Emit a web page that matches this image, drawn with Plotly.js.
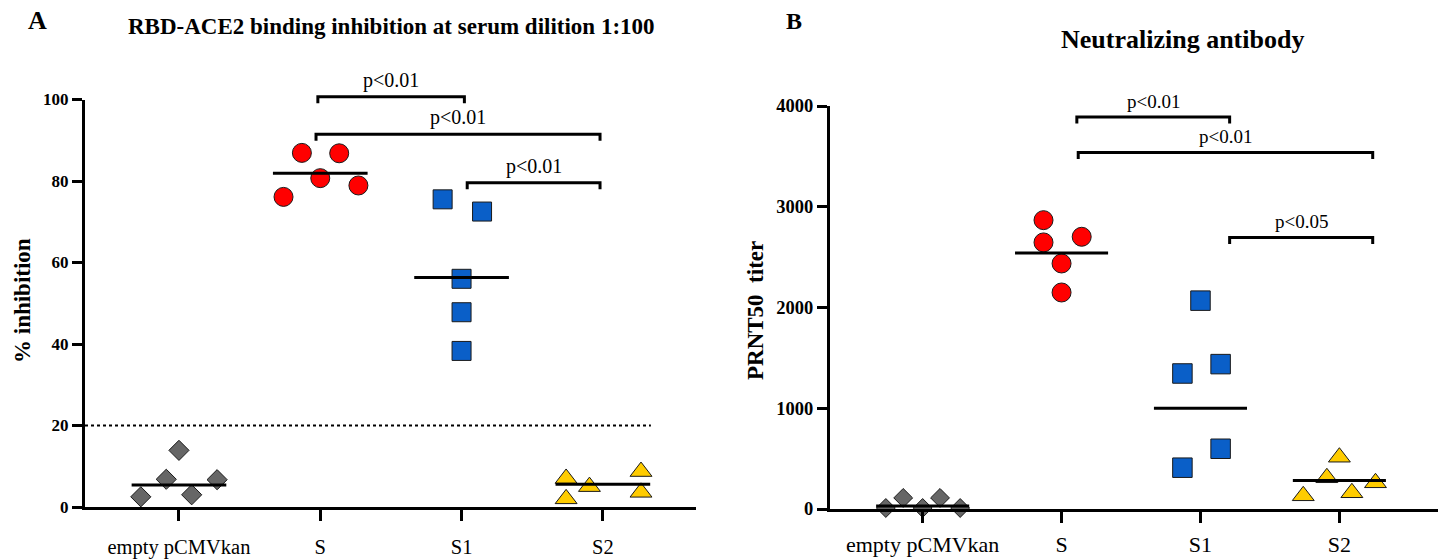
<!DOCTYPE html>
<html>
<head>
<meta charset="utf-8">
<script src="https://cdn.plot.ly/plotly-3.0.1.min.js"></script>
<style>html,body{margin:0;padding:0;background:#fff}#chart{width:1438px;height:560px}</style>
</head>
<body>
<div id="chart"></div>
<script>
// ---------- DATA ----------
const categories = ['empty pCMVkan', 'S', 'S1', 'S2'];

// Panel A: % inhibition (RBD-ACE2 binding) — per-animal values and horizontal jitter
const inhibEmpty = [2.5, 6.8, 13.9, 3.0, 6.7];
const inhibS     = [76.1, 86.9, 80.7, 86.8, 78.9];
const inhibS1    = [75.5, 56.0, 47.8, 38.3, 72.5];
const inhibS2    = [7.0, 2.0, 5.0, 8.7, 3.6];
const inhibMeans = [5.4, 81.9, 56.3, 5.6];
const jitterAEmpty = [-0.27, -0.09, 0, 0.09, 0.27];
const jitterAS     = [-0.26, -0.13, 0, 0.134, 0.27];
const jitterAS1    = [-0.134, 0, 0, 0, 0.145];
const jitterAS2    = [-0.26, -0.26, -0.095, 0.27, 0.27];
const inhibCutoff = 20;
const inhibTicks = [0, 20, 40, 60, 80, 100];
// significance brackets: [from category position, to category position, height, label]
const bracketsA = [
  [0.983, 2.02, 100.7, 'p<0.01'],
  [0.97, 2.98, 91.5, 'p<0.01'],
  [2.04, 2.98, 79.6, 'p<0.01']
];

// Panel B: PRNT50 titer
const titerEmpty = [10, 110, 10, 110, 10];
const titerS     = [2867, 2646, 2702, 2437, 2149];
const titerS1    = [2068, 1345, 1438, 410, 598];
const titerS2    = [131, 310, 514, 161, 260];
const titerMeans = [30, 2540, 1000, 283];
const jitterBEmpty = [-0.265, -0.14, 0, 0.125, 0.27];
const jitterBS     = [-0.13, -0.13, 0.145, 0, 0];
const jitterBS1    = [0, -0.13, 0.145, -0.13, 0.145];
const jitterBS2    = [-0.26, -0.09, 0, 0.09, 0.26];
const titerTicks = [0, 1000, 2000, 3000, 4000];
const bracketsB = [
  [1.11, 2.21, 3892, 'p<0.01'],
  [1.12, 3.24, 3539, 'p<0.01'],
  [2.21, 3.24, 2695, 'p<0.05']
];

// ---------- STYLE ----------
const SERIF = '"Liberation Serif", "Times New Roman", serif';
const groupStyles = [
  {symbol: 'diamond', color: '#666666'},
  {symbol: 'circle', color: '#FF0000'},
  {symbol: 'square', color: '#0A5FC8'},
  {symbol: 'triangle-up', color: '#FFCC00'}
];
const W = 1438, H = 560;
const px = p => p / W;
const py = p => 1 - p / H;

// Panel geometry (pixels)
const A = {left: 85, right: 696.4, y0: 507, yMaxPx: 99.5, yMax: 100, yExtra: 110, xr: [-0.665, 3.662]};
const B = {left: 830, right: 1438, y0: 509, yMaxPx: 106, yMax: 4000, yExtra: 4300, xr: [-0.667, 3.71]};
function extTop(P) { const per = (P.y0 - P.yMaxPx) / P.yMax; return P.y0 - P.yExtra * per; }

// ---------- TRACES ----------
const traces = [];
function addGroups(xa, ya, groups, jitters, sizes) {
  groups.forEach((vals, gi) => {
    traces.push({
      type: 'scatter', mode: 'markers', xaxis: xa, yaxis: ya, cliponaxis: false,
      x: vals.map((v, i) => gi + jitters[gi][i]), y: vals,
      marker: {symbol: groupStyles[gi].symbol, color: groupStyles[gi].color, size: sizes[gi],
               line: {color: '#1a1a1a', width: 1}},
      hoverinfo: 'y', showlegend: false
    });
  });
}
function addMeans(xa, ya, means) {
  means.forEach((m, gi) => {
    traces.push({type: 'scatter', mode: 'lines', xaxis: xa, yaxis: ya,
      x: [gi - 0.335, gi + 0.335], y: [m, m], line: {color: '#000', width: 3},
      hoverinfo: 'skip', showlegend: false});
  });
}
function addBrackets(xa, ya, brackets, leg) {
  brackets.forEach(b => {
    traces.push({type: 'scatter', mode: 'lines', xaxis: xa, yaxis: ya,
      x: [b[0], b[0], b[1], b[1]], y: [b[2] - leg, b[2], b[2], b[2] - leg],
      line: {color: '#000', width: 3}, hoverinfo: 'skip', showlegend: false});
  });
}

addGroups('x', 'y', [inhibEmpty, inhibS, inhibS1, inhibS2],
  [jitterAEmpty, jitterAS, jitterAS1, jitterAS2], [15.5, 19, 19, 19]);
addMeans('x', 'y', inhibMeans);
traces.unshift({type: 'scatter', mode: 'lines', xaxis: 'x', yaxis: 'y',
  x: [A.xr[0], 3.34], y: [inhibCutoff, inhibCutoff],
  line: {color: '#000', width: 2, dash: 'dot'}, hoverinfo: 'skip', showlegend: false});
addBrackets('x', 'y3', bracketsA, 1.6);

addGroups('x2', 'y2', [titerEmpty, titerS, titerS1, titerS2],
  [jitterBEmpty, jitterBS, jitterBS1, jitterBS2], [14.5, 19, 19.5, 19]);
addMeans('x2', 'y2', titerMeans);
addBrackets('x2', 'y4', bracketsB, 65);

// ---------- LAYOUT ----------
function xAxis(P, anchor, fontSize, standoff) {
  return {domain: [px(P.left), px(P.right)], range: P.xr, anchor: anchor,
    tickmode: 'array', tickvals: [0, 1, 2, 3], ticktext: categories,
    ticks: 'outside', ticklen: 11, tickwidth: 3, tickcolor: '#000',
    showline: true, linewidth: 3, linecolor: '#000', showgrid: false, zeroline: false,
    tickfont: {family: SERIF, size: fontSize, color: '#000'}, ticklabelstandoff: standoff, fixedrange: true};
}
function yAxis(P, anchor, ticks, fontSize) {
  return {domain: [py(P.y0), py(P.yMaxPx)], range: [0, P.yMax], anchor: anchor,
    tickmode: 'array', tickvals: ticks, ticks: 'outside', ticklen: 10, tickwidth: 3, tickcolor: '#000',
    showline: true, linewidth: 3, linecolor: '#000', showgrid: false, zeroline: false,
    tickfont: {family: SERIF, size: fontSize, color: '#000', weight: 'bold'}, fixedrange: true};
}
function yHidden(P, anchor) {
  return {domain: [py(P.y0), py(extTop(P))], range: [0, P.yExtra], anchor: anchor,
    visible: false, fixedrange: true};
}

const annotations = [];
function bracketLabels(xa, ya, brackets, size) {
  brackets.forEach(b => annotations.push({xref: xa, yref: ya, x: (b[0] + b[1]) / 2, y: b[2],
    yanchor: 'bottom', yshift: 3, text: b[3], showarrow: false,
    font: {family: SERIF, size: size, color: '#000'}}));
}
bracketLabels('x', 'y3', bracketsA, 20);
bracketLabels('x2', 'y4', bracketsB, 19);

function txt(x, y, text, size, bold, angle) {
  annotations.push({xref: 'paper', yref: 'paper', x: px(x), y: py(y), xanchor: 'center', yanchor: 'middle',
    text: text, showarrow: false, textangle: angle || 0,
    font: {family: SERIF, size: size, color: '#000', weight: bold ? 'bold' : 'normal'}});
}
txt(37, 21, 'A', 26, true);
txt(391, 26, 'RBD-ACE2 binding inhibition at serum dilition 1:100', 23, true);
txt(794, 21, 'B', 24, true);
txt(1182, 40, 'Neutralizing antibody', 26, true);
txt(22, 301, '% inhibition', 23, true, -90);
txt(755, 310, 'PRNT50\u00a0 titer', 23, true, -90);

const layout = {
  width: W, height: H, margin: {l: 0, r: 0, t: 0, b: 0},
  paper_bgcolor: '#fff', plot_bgcolor: 'rgba(0,0,0,0)', showlegend: false,
  xaxis: xAxis(A, 'y', 20.5, 8),
  yaxis: yAxis(A, 'x', inhibTicks, 17),
  yaxis3: yHidden(A, 'x'),
  xaxis2: xAxis(B, 'y2', 22, 3),
  yaxis2: yAxis(B, 'x2', titerTicks, 18.5),
  yaxis4: yHidden(B, 'x2'),
  annotations: annotations
};

Plotly.newPlot('chart', traces, layout, {displayModeBar: false, staticPlot: true});
</script>
</body>
</html>
